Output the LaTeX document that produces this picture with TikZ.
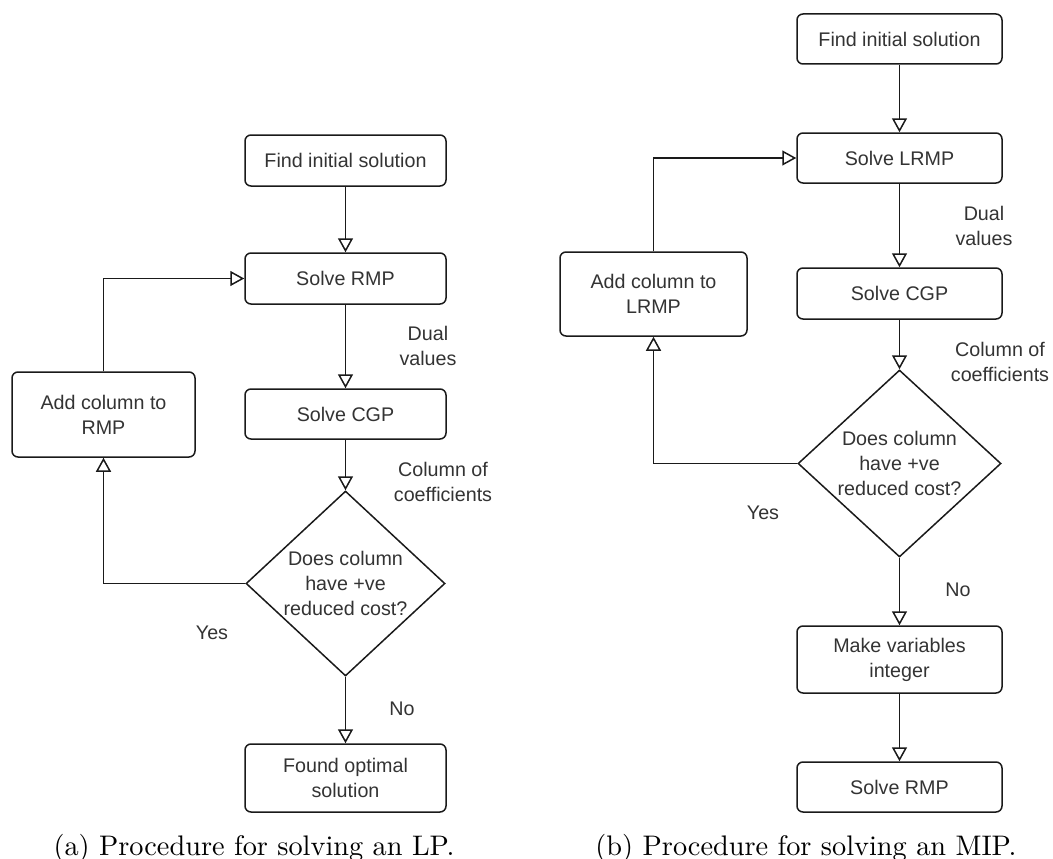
\documentclass[tikz,border=0pt]{standalone}
\usepackage{fontspec}
\newfontfamily\arialf{Liberation Sans}
\newfontfamily\capf{lmroman10-regular.otf}
\usetikzlibrary{shapes.geometric,arrows.meta,calc}
\definecolor{txt}{HTML}{333333}
\definecolor{ln}{HTML}{1A1A1A}
\tikzset{
  base/.style={inner sep=0pt, font=\arialf\fontsize{19.7}{25}\selectfont, text=txt, align=center},
  box/.style={base, draw=ln, line width=1.5pt, rounded corners=6pt},
  dia/.style={draw=ln, line width=1.5pt, shape=diamond, inner sep=0pt, minimum width=#1},
  lbl/.style={base},
  conn/.style={draw=ln, line width=1.5pt, -{Triangle[open, length=14pt, width=15pt]}},
  captext/.style={inner sep=0pt, anchor=base, font=\capf\fontsize{28.3}{34}\selectfont, text=black}
}
\begin{document}
\begin{tikzpicture}[x=1pt,y=-1pt]
\useasboundingbox (0,0) rectangle (1053,859);
% ---------- left diagram ----------
\node[box, minimum width=201pt, minimum height=51pt] (L1) at (345.5,160.5) {Find initial solution};
\node[box, minimum width=201pt, minimum height=51pt] (L2) at (345.5,278.5) {Solve RMP};
\node[box, minimum width=201pt, minimum height=50pt] (L3) at (345.5,414) {Solve CGP};
\node[dia=199pt, minimum height=185pt] (Ld) at (345.5,583.5) {};
\node[lbl] (Ldt) at (345.5,583.5) {Does column\\have +ve\\reduced cost?};
\node[box, minimum width=201pt, minimum height=68pt] (L4) at (345.5,778) {Found optimal\\solution};
\node[box, minimum width=183pt, minimum height=85pt] (LA) at (103.5,414.5) {Add column to\\RMP};
\draw[conn] (L1.south) -- (L2.north);
\draw[conn] (L2.south) -- (L3.north);
\draw[conn] (L3.south) -- (Ld.north);
\draw[conn] (Ld.south) -- (L4.north);
\draw[conn] (Ld.west) -| (LA.south);
\draw[conn] (LA.north) |- (L2.west);
\node[lbl] (Ldual) at (428,345.5) {Dual\\values};
\node[lbl] (Lcoef) at (443,481.5) {Column of\\coefficients};
\node[lbl] (Lyes) at (212,633) {Yes};
\node[lbl] (Lno) at (402,709) {No};
\node[captext] (capa) at (254,855) {(a) Procedure for solving an LP.};
% ---------- right diagram ----------
\node[box, minimum width=205pt, minimum height=50pt] (R1) at (899.5,39) {Find initial solution};
\node[box, minimum width=205pt, minimum height=50pt] (R2) at (899.5,158) {Solve LRMP};
\node[box, minimum width=205pt, minimum height=51pt] (R3) at (899.5,293.5) {Solve CGP};
\node[dia=203pt, minimum height=187pt] (Rd) at (899.5,463.5) {};
\node[lbl] (Rdt) at (899.5,463.5) {Does column\\have +ve\\reduced cost?};
\node[box, minimum width=205pt, minimum height=67pt] (R4) at (899.5,659.5) {Make variables\\integer};
\node[box, minimum width=205pt, minimum height=50pt] (R5) at (899.5,787) {Solve RMP};
\node[box, minimum width=187pt, minimum height=84pt] (RA) at (653.5,294) {Add column to\\LRMP};
\draw[conn] (R1.south) -- (R2.north);
\draw[conn] (R2.south) -- (R3.north);
\draw[conn] (R3.south) -- (Rd.north);
\draw[conn] (Rd.south) -- (R4.north);
\draw[conn] (R4.south) -- (R5.north);
\draw[conn] (Rd.west) -| (RA.south);
\draw[conn] (RA.north) |- (R2.west);
\node[lbl] (Rdual) at (984,226) {Dual\\values};
\node[lbl] (Rcoef) at (1000,361.5) {Column of\\coefficients};
\node[lbl] (Ryes) at (763,513) {Yes};
\node[lbl] (Rno) at (958,590) {No};
\node[captext] (capb) at (806,855) {(b) Procedure for solving an MIP.};
\end{tikzpicture}
\end{document}
